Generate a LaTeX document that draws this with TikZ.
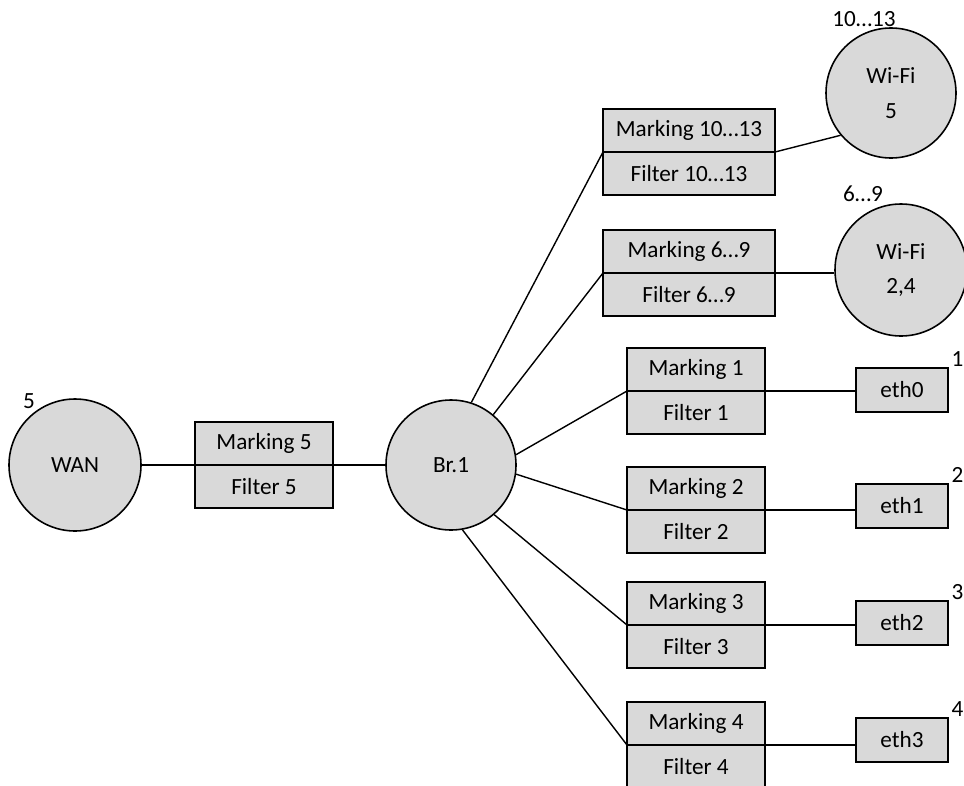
\documentclass[tikz,border=0pt]{standalone}
\usepackage{fontspec}
\setmainfont{Carlito}
\usetikzlibrary{positioning}

\definecolor{boxgray}{RGB}{217,217,217}

\tikzset{
  port/.style={circle, draw, fill=boxgray, line width=0.9pt, minimum size=2.6cm, inner sep=0pt, align=center},
  half/.style={rectangle, draw, fill=boxgray, line width=0.9pt, minimum width=2.76cm, minimum height=0.86cm, inner sep=0pt, outer sep=0pt},
  widehalf/.style={half, minimum width=3.44cm},
  iface/.style={rectangle, draw, fill=boxgray, line width=0.9pt, minimum width=1.84cm, minimum height=0.88cm, inner sep=0pt},
  tag/.style={inner sep=0pt},
  link/.style={line width=0.8pt}
}

\begin{document}
\begin{tikzpicture}[font=\fontsize{13.2}{19.5}\selectfont]
    \useasboundingbox (0,0) rectangle (19.28,-15.70);

    % left side: WAN, its marking/filter pair and the bridge
    \node[port, minimum size=2.64cm] (wan) at (1.50,-9.30) {WAN};
    \node[tag] (wantag) at (0.58,-8.02) {5};
    \node[half, anchor=south west] (mark5) at (3.90,-9.30) {Marking 5};
    \node[half, below=0pt of mark5] (filt5) {Filter 5};
    \node[port] (br) at (9.02,-9.30) {Br.1};

    \draw[link] (wan.east) -- (mark5.south west);
    \draw[link] (mark5.south east) -- (br.west);

    % Wi-Fi branches
    \node[widehalf, anchor=south west] (mark10) at (12.06,-3.04) {Marking 10…13};
    \node[widehalf, below=0pt of mark10] (filt10) {Filter 10…13};
    \node[port] (wifi5) at (17.82,-1.86) {Wi-Fi\\5};
    \node[tag] (wifi5tag) at (17.28,-0.39) {10…13};

    \node[widehalf, anchor=south west] (mark6) at (12.06,-5.46) {Marking 6…9};
    \node[widehalf, below=0pt of mark6] (filt6) {Filter 6…9};
    \node[port, minimum size=2.64cm] (wifi24) at (18.02,-5.40) {Wi-Fi\\2,4};
    \node[tag] (wifi24tag) at (17.26,-3.88) {6…9};

    % wired branches
    \node[half, anchor=south west] (mark1) at (12.54,-7.82) {Marking 1};
    \node[half, below=0pt of mark1] (filt1) {Filter 1};
    \node[iface] (eth0) at (18.04,-7.80) {eth0};
    \node[tag, anchor=south west] (eth0tag) at ([xshift=0.05cm]eth0.north east) {1};

    \node[half, anchor=south west] (mark2) at (12.54,-10.20) {Marking 2};
    \node[half, below=0pt of mark2] (filt2) {Filter 2};
    \node[iface] (eth1) at (18.04,-10.12) {eth1};
    \node[tag, anchor=south west] (eth1tag) at ([xshift=0.05cm]eth1.north east) {2};

    \node[half, anchor=south west] (mark3) at (12.54,-12.50) {Marking 3};
    \node[half, below=0pt of mark3] (filt3) {Filter 3};
    \node[iface] (eth2) at (18.04,-12.46) {eth2};
    \node[tag, anchor=south west] (eth2tag) at ([xshift=0.05cm]eth2.north east) {3};

    \node[half, anchor=south west] (mark4) at (12.54,-14.90) {Marking 4};
    \node[half, below=0pt of mark4] (filt4) {Filter 4};
    \node[iface] (eth3) at (18.04,-14.80) {eth3};
    \node[tag, anchor=south west] (eth3tag) at ([xshift=0.05cm]eth3.north east) {4};

    % spokes out of the bridge
    \draw[link] (br.72) -- (mark10.south west);
    \draw[link] (br.50) -- (mark6.south west);
    \draw[link] (br.9) -- (mark1.south west);
    \draw[link] (br.-8) -- (mark2.south west);
    \draw[link] (br.-49) -- (mark3.south west);
    \draw[link] (br.-80) -- (mark4.south west);

    % and on to the interfaces
    \draw[link] (mark10.south east) -- (wifi5.220);
    \draw[link] (mark6.south east) -- (mark6.south east -| wifi24.west);
    \draw[link] (mark1.south east) -- (mark1.south east -| eth0.west);
    \draw[link] (mark2.south east) -- (mark2.south east -| eth1.west);
    \draw[link] (mark3.south east) -- (mark3.south east -| eth2.west);
    \draw[link] (mark4.south east) -- (mark4.south east -| eth3.west);

\end{tikzpicture}
\end{document}
